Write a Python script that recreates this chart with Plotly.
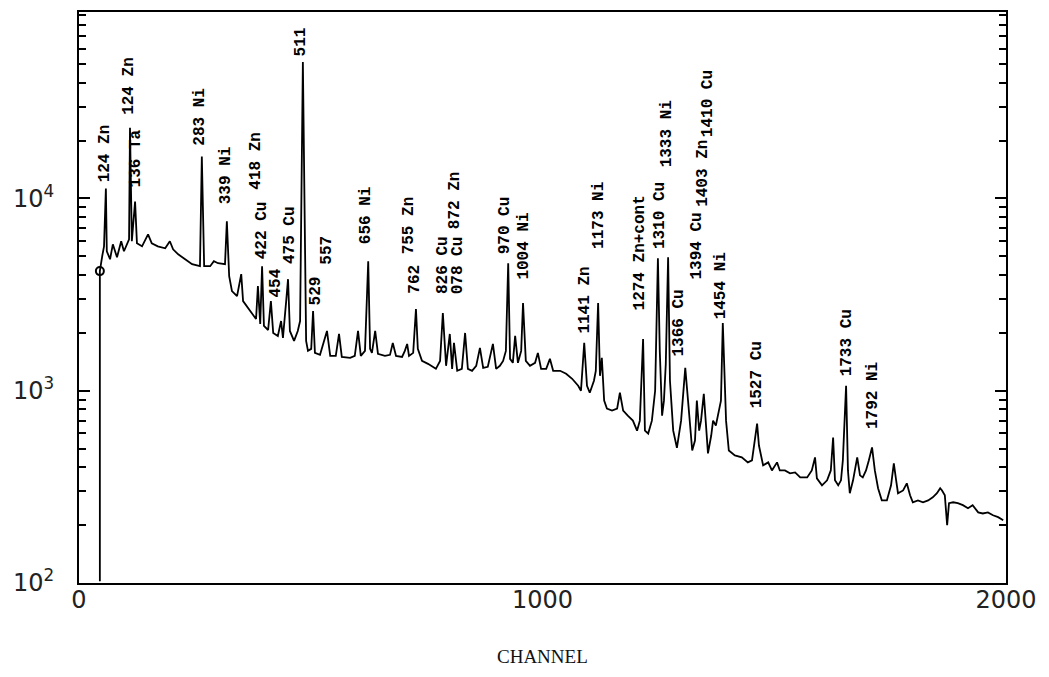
import plotly.graph_objects as go

# Gamma-ray spectrum (counts per channel) traced as a polyline
channel = [45, 45, 50, 54, 58, 60, 67, 73, 82, 91, 97, 104, 108, 110, 114, 121, 125, 136, 149, 157,
           170, 186, 196, 203, 214, 229, 244, 261, 265, 270, 283, 291, 300, 315, 319, 324, 330, 341,
           350, 354, 369, 382, 386, 391, 395, 399, 408, 414, 419, 429, 436, 440, 447, 451, 455, 464,
           472, 477, 483, 490, 494, 501, 505, 509, 520, 535, 542, 554, 561, 567, 585, 595, 602, 608,
           617, 624, 628, 632, 639, 645, 660, 671, 677, 684, 697, 703, 708, 712, 721, 727, 731, 740,
           753, 762, 770, 779, 785, 792, 800, 805, 809, 816, 826, 833, 839, 848, 857, 865, 872, 882,
           893, 900, 908, 915, 921, 926, 930, 936, 941, 947, 954, 958, 964, 973, 984, 990, 997, 1008,
           1016, 1023, 1038, 1051, 1064, 1077, 1083, 1090, 1096, 1102, 1111, 1115, 1120, 1124, 1128,
           1133, 1139, 1150, 1161, 1167, 1174, 1184, 1195, 1204, 1210, 1217, 1221, 1228, 1236, 1243,
           1249, 1253, 1258, 1262, 1266, 1271, 1275, 1282, 1290, 1299, 1308, 1314, 1323, 1329, 1333,
           1338, 1342, 1348, 1353, 1357, 1364, 1368, 1374, 1379, 1385, 1389, 1396, 1402, 1415, 1430,
           1443, 1452, 1458, 1463, 1467, 1476, 1487, 1495, 1506, 1512, 1523, 1534, 1545, 1556, 1571,
           1581, 1588, 1592, 1603, 1614, 1622, 1627, 1631, 1638, 1644, 1648, 1655, 1659, 1663, 1670,
           1679, 1685, 1691, 1698, 1704, 1711, 1717, 1724, 1732, 1743, 1752, 1758, 1763, 1767, 1778,
           1786, 1793, 1799, 1810, 1821, 1832, 1842, 1851, 1858, 1862, 1868, 1873, 1877, 1886, 1896,
           1907, 1918, 1928, 1940, 1950, 1961, 1972, 1983, 1994]
counts = [102, 4190, 5005, 5640, 11270, 5315, 4830, 5775, 4945, 5990, 5315, 5775, 6130, 23330, 5990,
          9650, 5845, 5640, 6510, 5845, 5640, 5505, 5990, 5440, 5125, 4830, 4550, 4443, 16510, 4443,
          4443, 4716, 4605, 4550, 7600, 3944, 3297, 3106, 4039, 2927, 2597, 2361, 3500, 2224, 4443,
          2172, 2070, 2927, 1998, 1928, 2305, 1882, 2927, 3805, 2046, 1816, 2046, 2305, 51300, 1816,
          1612, 1651, 2597, 1574, 1537, 2046, 1518, 1518, 1974, 1500, 1483, 1518, 2046, 1518, 1612,
          4716, 1651, 1574, 2046, 1555, 1518, 1537, 1773, 1518, 1500, 1612, 1752, 1518, 1574, 2660,
          1651, 1430, 1380, 1332, 1300, 1430, 2536, 1348, 1974, 1300, 1773, 1270, 1300, 1998, 1300,
          1270, 1348, 1670, 1316, 1332, 1752, 1300, 1348, 1430, 1612, 4605, 1465, 1397, 1928, 1397,
          1612, 2858, 1430, 1348, 1397, 1574, 1300, 1300, 1465, 1270, 1270, 1225, 1154, 1062, 1000,
          1773, 1062, 976, 1127, 1270, 2858, 1196, 1483, 888, 807, 788, 807, 976, 788, 742, 699, 620,
          699, 1860, 620, 599, 699, 1000, 4887, 1612, 742, 888, 1380, 4945, 1127, 620, 505, 699, 1316,
          888, 489, 551, 888, 620, 699, 965, 620, 472, 585, 699, 659, 760, 888, 2251, 699, 489, 461,
          450, 424, 434, 551, 675, 519, 409, 424, 385, 424, 385, 385, 372, 376, 354, 354, 385, 450,
          350, 322, 342, 385, 571, 342, 322, 342, 434, 1062, 385, 293, 342, 450, 363, 354, 385, 434,
          507, 385, 311, 269, 269, 322, 419, 342, 293, 303, 330, 286, 263, 269, 263, 269, 279, 293,
          311, 303, 286, 200, 260, 263, 260, 254, 245, 254, 233, 230, 233, 225, 220, 212]

# Peak identifications (energy in keV and element)
peak_labels = ["124 Zn", "124 Zn", "136 Ta", "283 Ni", "339 Ni", "418 Zn", "422 Cu", "454",
               "475 Cu", "511", "529", "557", "656 Ni", "755 Zn", "762", "826 Cu", "872 Zn",
               "078 Cu", "970 Cu", "1004 Ni", "1141 Zn", "1173 Ni", "1274 Zn+cont", "1310 Cu",
               "1333 Ni", "1366 Cu", "1394 Cu", "1403 Zn", "1410 Cu", "1454 Ni", "1527 Cu",
               "1733 Cu", "1792 Ni"]
label_channel = [58, 108, 125, 261, 319, 380, 395, 425, 455, 481, 511, 535, 621, 712, 725, 785,
                 813, 818, 919, 960, 1092, 1122, 1210, 1254, 1269, 1295, 1333, 1346, 1357, 1387,
                 1463, 1657, 1713]
label_log_counts = [4.073, 4.425, 4.047, 4.264, 3.959, 4.036, 3.674, 3.477, 3.648, 4.731, 3.435,
                    3.648, 3.751, 3.699, 3.492, 3.492, 3.829, 3.492, 3.699, 3.570, 3.285, 3.725,
                    3.409, 3.725, 4.150, 3.166, 3.570, 3.948, 4.311, 3.363, 2.896, 3.062, 2.793]

y_ticks = [100, 1000, 10000]
y_tick_text = ["10<sup>2</sup>", "10<sup>3</sup>", "10<sup>4</sup>"]
x_ticks = [0, 1000, 2000]

fig = go.Figure()
fig.add_trace(go.Scatter(x=channel, y=counts, mode="lines",
                         line=dict(color="black", width=1.8), hoverinfo="skip"))
fig.add_trace(go.Scatter(x=[channel[1]], y=[counts[1]], mode="markers",
                         marker=dict(symbol="circle-open", size=8, color="black",
                                     line=dict(width=2, color="black"))))

for txt, cx, ly in zip(peak_labels, label_channel, label_log_counts):
    fig.add_annotation(x=cx, y=ly, text=txt, textangle=-90, showarrow=False,
                       xanchor="center", yanchor="bottom",
                       font=dict(family="Liberation Mono", size=16, color="black", weight="bold"))

fig.add_annotation(x=0.5005, y=-0.129, xref="paper", yref="paper", text="CHANNEL",
                   showarrow=False, xanchor="center", yanchor="middle",
                   font=dict(family="Liberation Serif", size=19, color="#111"))

minor_vals = [m * 10 ** e for e in (2, 3, 4) for m in range(2, 10)]

fig.update_layout(
    width=1049, height=677,
    margin=dict(l=79, r=43, t=10, b=94),
    paper_bgcolor="white", plot_bgcolor="white",
    showlegend=False,
    xaxis=dict(range=[0, 2000], tickvals=x_ticks, ticktext=[str(v) for v in x_ticks],
               showgrid=False, zeroline=False, showline=True, linecolor="black", linewidth=2,
               mirror=True, ticks="", ticklabelstandoff=-6,
               tickfont=dict(family="DejaVu Sans", size=24, color="#222")),
    yaxis=dict(type="log", range=[2, 4.97], tickmode="array", tickvals=y_ticks,
               ticktext=y_tick_text,
               showgrid=False, zeroline=False, showline=True, linecolor="black", linewidth=2,
               mirror="ticks", ticks="inside", ticklen=11, tickwidth=2, tickcolor="black",
               ticklabelstandoff=18,
               tickfont=dict(family="DejaVu Sans", size=24, color="#222"),
               minor=dict(tickmode="array", tickvals=minor_vals, ticks="inside", ticklen=7,
                          tickwidth=2, tickcolor="black", showgrid=False)),
)

fig.write_html("out.html")
